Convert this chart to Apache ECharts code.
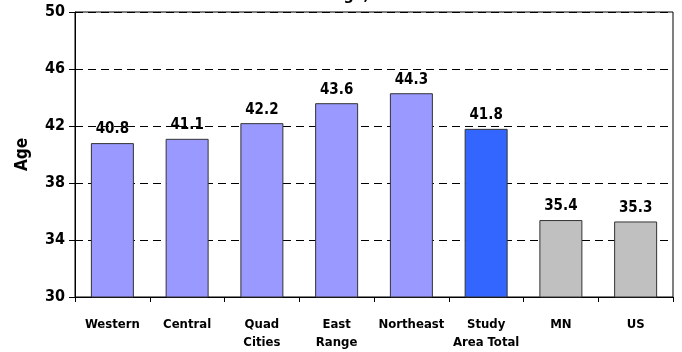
<!DOCTYPE html>
<html>
<head>
<meta charset="utf-8">
<script src="https://cdn.jsdelivr.net/npm/echarts@6/dist/echarts.min.js"></script>
<style>
  html, body { margin: 0; padding: 0; background: #fff; }
  #chart { width: 682px; height: 352px; }
</style>
</head>
<body>
<div id="chart"></div>
<script>
// Median age by region
const categories = ['Western', 'Central', 'Quad\nCities', 'East\nRange', 'Northeast', 'Study\nArea Total', 'MN', 'US'];
const ages = [40.8, 41.1, 42.2, 43.6, 44.3, 41.8, 35.4, 35.3];
const barColors = ['#9999FF', '#9999FF', '#9999FF', '#9999FF', '#9999FF', '#3366FF', '#C0C0C0', '#C0C0C0'];
const yTicks = { min: 30, max: 50, step: 4 };

const FONT = '"DejaVu Sans Condensed", "DejaVu Sans", sans-serif';

const chart = echarts.init(document.getElementById('chart'));
chart.setOption({
  animation: false,
  backgroundColor: '#fff',
  title: {
    text: 'Median Age, 2000',
    left: 'center',
    top: -17,
    textStyle: { fontFamily: FONT, fontWeight: 'bold', fontSize: 16, color: '#000' }
  },
  grid: {
    left: 75, right: 9, top: 12, bottom: 54,
    show: true, borderColor: '#000', borderWidth: 1, backgroundColor: 'transparent'
  },
  xAxis: {
    type: 'category',
    data: categories,
    axisLine: { lineStyle: { color: '#000', width: 1 } },
    axisTick: { show: true, length: 5, lineStyle: { color: '#000' } },
    axisLabel: {
      fontFamily: FONT, fontWeight: 'bold', fontSize: 13, color: '#000',
      margin: 19, lineHeight: 18, interval: 0
    }
  },
  yAxis: {
    type: 'value',
    min: yTicks.min, max: yTicks.max, interval: yTicks.step,
    name: 'Age',
    nameLocation: 'middle',
    nameGap: 44,
    nameTextStyle: { fontFamily: FONT, fontWeight: 'bold', fontSize: 17, color: '#000' },
    axisLine: { show: true, lineStyle: { color: '#000', width: 1 } },
    axisTick: { show: true, length: 6, lineStyle: { color: '#000' } },
    axisLabel: { fontFamily: FONT, fontWeight: 'bold', fontSize: 16, color: '#000', margin: 10 },
    splitLine: { show: true, lineStyle: { color: '#000', type: [8, 5], width: 1 } }
  },
  series: [{
    type: 'bar',
    data: ages.map((v, i) => ({ value: v, itemStyle: { color: barColors[i] } })),
    barWidth: 43,
    itemStyle: { borderColor: '#333', borderWidth: 1 },
    label: {
      show: true, position: 'top', distance: 6,
      fontFamily: FONT, fontWeight: 'bold', fontSize: 15, color: '#000',
      formatter: p => p.value.toFixed(1)
    }
  }]
});
</script>
</body>
</html>
